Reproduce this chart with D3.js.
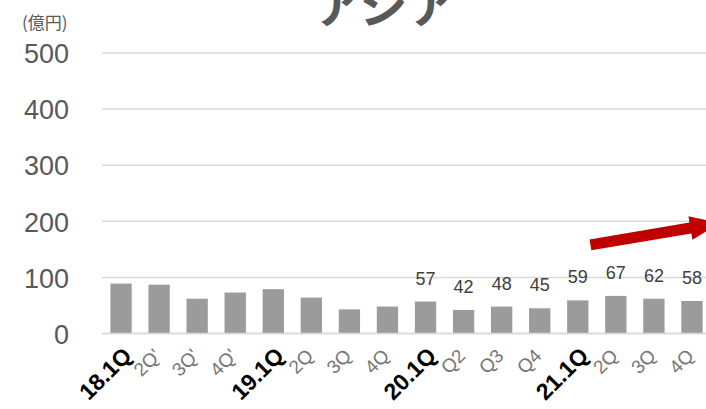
<!DOCTYPE html>
<html>
<head>
<meta charset="utf-8">
<script src="https://cdn.jsdelivr.net/npm/d3@7"></script>
<style>
  body { margin: 0; background: #fff; }
  svg { display: block; font-family: "Liberation Sans", Arial, sans-serif; }
</style>
</head>
<body>
<div id="chart"></div>
<script>
/*
 * Data
 */
var quarterLabels = ["18.1Q", "2Q'", "3Q'", "4Q'", "19.1Q", "2Q", "3Q", "4Q",
                     "20.1Q", "Q2", "Q3", "Q4", "21.1Q", "2Q", "3Q", "4Q"];
var yearStart = [true, false, false, false, true, false, false, false,
                 true, false, false, false, true, false, false, false];
var salesValues = [89, 87, 62, 73, 79, 64, 43, 48, 57, 42, 48, 45, 59, 67, 62, 58];
// only the last eight bars carry a number
var showLabel = [false, false, false, false, false, false, false, false,
                 true, true, true, true, true, true, true, true];
var yTicks = [0, 100, 200, 300, 400, 500];
var titleText = 'アジア';
var unitText = '(億円)';

/*
 * Build the chart
 */
var width = 706, height = 409;

var svg = d3.select('#chart')
  .append('svg')
  .attr('width', width)
  .attr('height', height);

var x = d3.scaleBand()
  .domain(d3.range(quarterLabels.length))
  .range([102, 711])
  .paddingInner(0.44)
  .paddingOuter(0.22);

var y = d3.scaleLinear()
  .domain([0, 500])
  .range([333.5, 53]);

// gridlines
svg.append('g')
  .selectAll('line')
  .data(yTicks)
  .enter()
  .append('line')
  .attr('x1', 102)
  .attr('x2', width)
  .attr('y1', function(d) { return y(d); })
  .attr('y2', function(d) { return y(d); })
  .attr('stroke', '#d9d9d9')
  .attr('stroke-width', 1.5);

// y axis labels
var yAxis = d3.axisLeft(y).tickValues(yTicks).tickSize(0).tickPadding(0);
var yg = svg.append('g')
  .attr('transform', 'translate(69,0)')
  .call(yAxis);
yg.select('.domain').remove();
yg.selectAll('text')
  .attr('fill', '#595959')
  .attr('dy', '0.36em')
  .style('font-size', '27px')
  .style('font-family', '"Liberation Sans", Arial, sans-serif');

// bars
svg.append('g')
  .selectAll('rect')
  .data(salesValues)
  .enter()
  .append('rect')
  .attr('x', function(d, i) { return x(i); })
  .attr('y', function(d) { return y(d); })
  .attr('width', x.bandwidth())
  .attr('height', function(d) { return y(0) - y(d); })
  .attr('fill', '#9b9b9b');

// value labels
var lbl = svg.append('g');
salesValues.forEach(function(v, i) {
  if (!showLabel[i]) return;
  lbl.append('text')
    .attr('x', x(i) + x.bandwidth() / 2)
    .attr('y', y(v) - 17)
    .attr('text-anchor', 'middle')
    .attr('fill', '#404040')
    .style('font-size', '18px')
    .text(v);
});

// x axis line
svg.append('line')
  .attr('x1', 102)
  .attr('x2', width)
  .attr('y1', y(0))
  .attr('y2', y(0))
  .attr('stroke', '#d9d9d9')
  .attr('stroke-width', 1.5);

// x labels, rotated
var xg = svg.append('g');
quarterLabels.forEach(function(t, i) {
  var cx = x(i) + x.bandwidth() / 2;
  var bold = yearStart[i];
  xg.append('text')
    .attr('transform', 'translate(' + (cx + (bold ? 12 : 3)) + ',' + (bold ? 357 : 357) + ') rotate(-45)')
    .attr('text-anchor', 'end')
    .attr('fill', bold ? '#000' : '#767676')
    .style('font-weight', bold ? 'bold' : 'normal')
    .style('font-size', bold ? '23px' : '19px')
    .text(t);
});

// trend arrow (annotation)
var ax0 = x(12) + x.bandwidth() + 2, ay0 = y(158);
var ax1 = width + 14, ay1 = y(197);
var ang = Math.atan2(ay1 - ay0, ax1 - ax0);
var len = Math.sqrt((ax1 - ax0) * (ax1 - ax0) + (ay1 - ay0) * (ay1 - ay0));
var shaftW = 5.5, headW = 12, headL = 30;
var arrowPts = [[0, -shaftW], [len - headL, -shaftW], [len - headL, -headW], [len, 0],
                [len - headL, headW], [len - headL, shaftW], [0, shaftW]];
svg.append('path')
  .attr('transform', 'translate(' + ax0 + ',' + ay0 + ') rotate(' + (ang * 180 / Math.PI) + ')')
  .attr('d', d3.line()(arrowPts) + 'Z')
  .attr('fill', '#c00000');

// unit label
svg.append('text')
  .attr('x', 22)
  .attr('y', 29)
  .attr('fill', '#595959')
  .style('font-size', '17px')
  .style('font-family', '"Noto Sans CJK JP", sans-serif')
  .text(unitText);

// title, cut off by the top edge
svg.append('text')
  .attr('x', 385)
  .attr('y', 23)
  .attr('text-anchor', 'middle')
  .attr('fill', '#595959')
  .style('font-size', '48px')
  .style('font-weight', 'bold')
  .style('font-family', '"Noto Sans CJK JP", sans-serif')
  .text(titleText);
</script>
</body>
</html>
